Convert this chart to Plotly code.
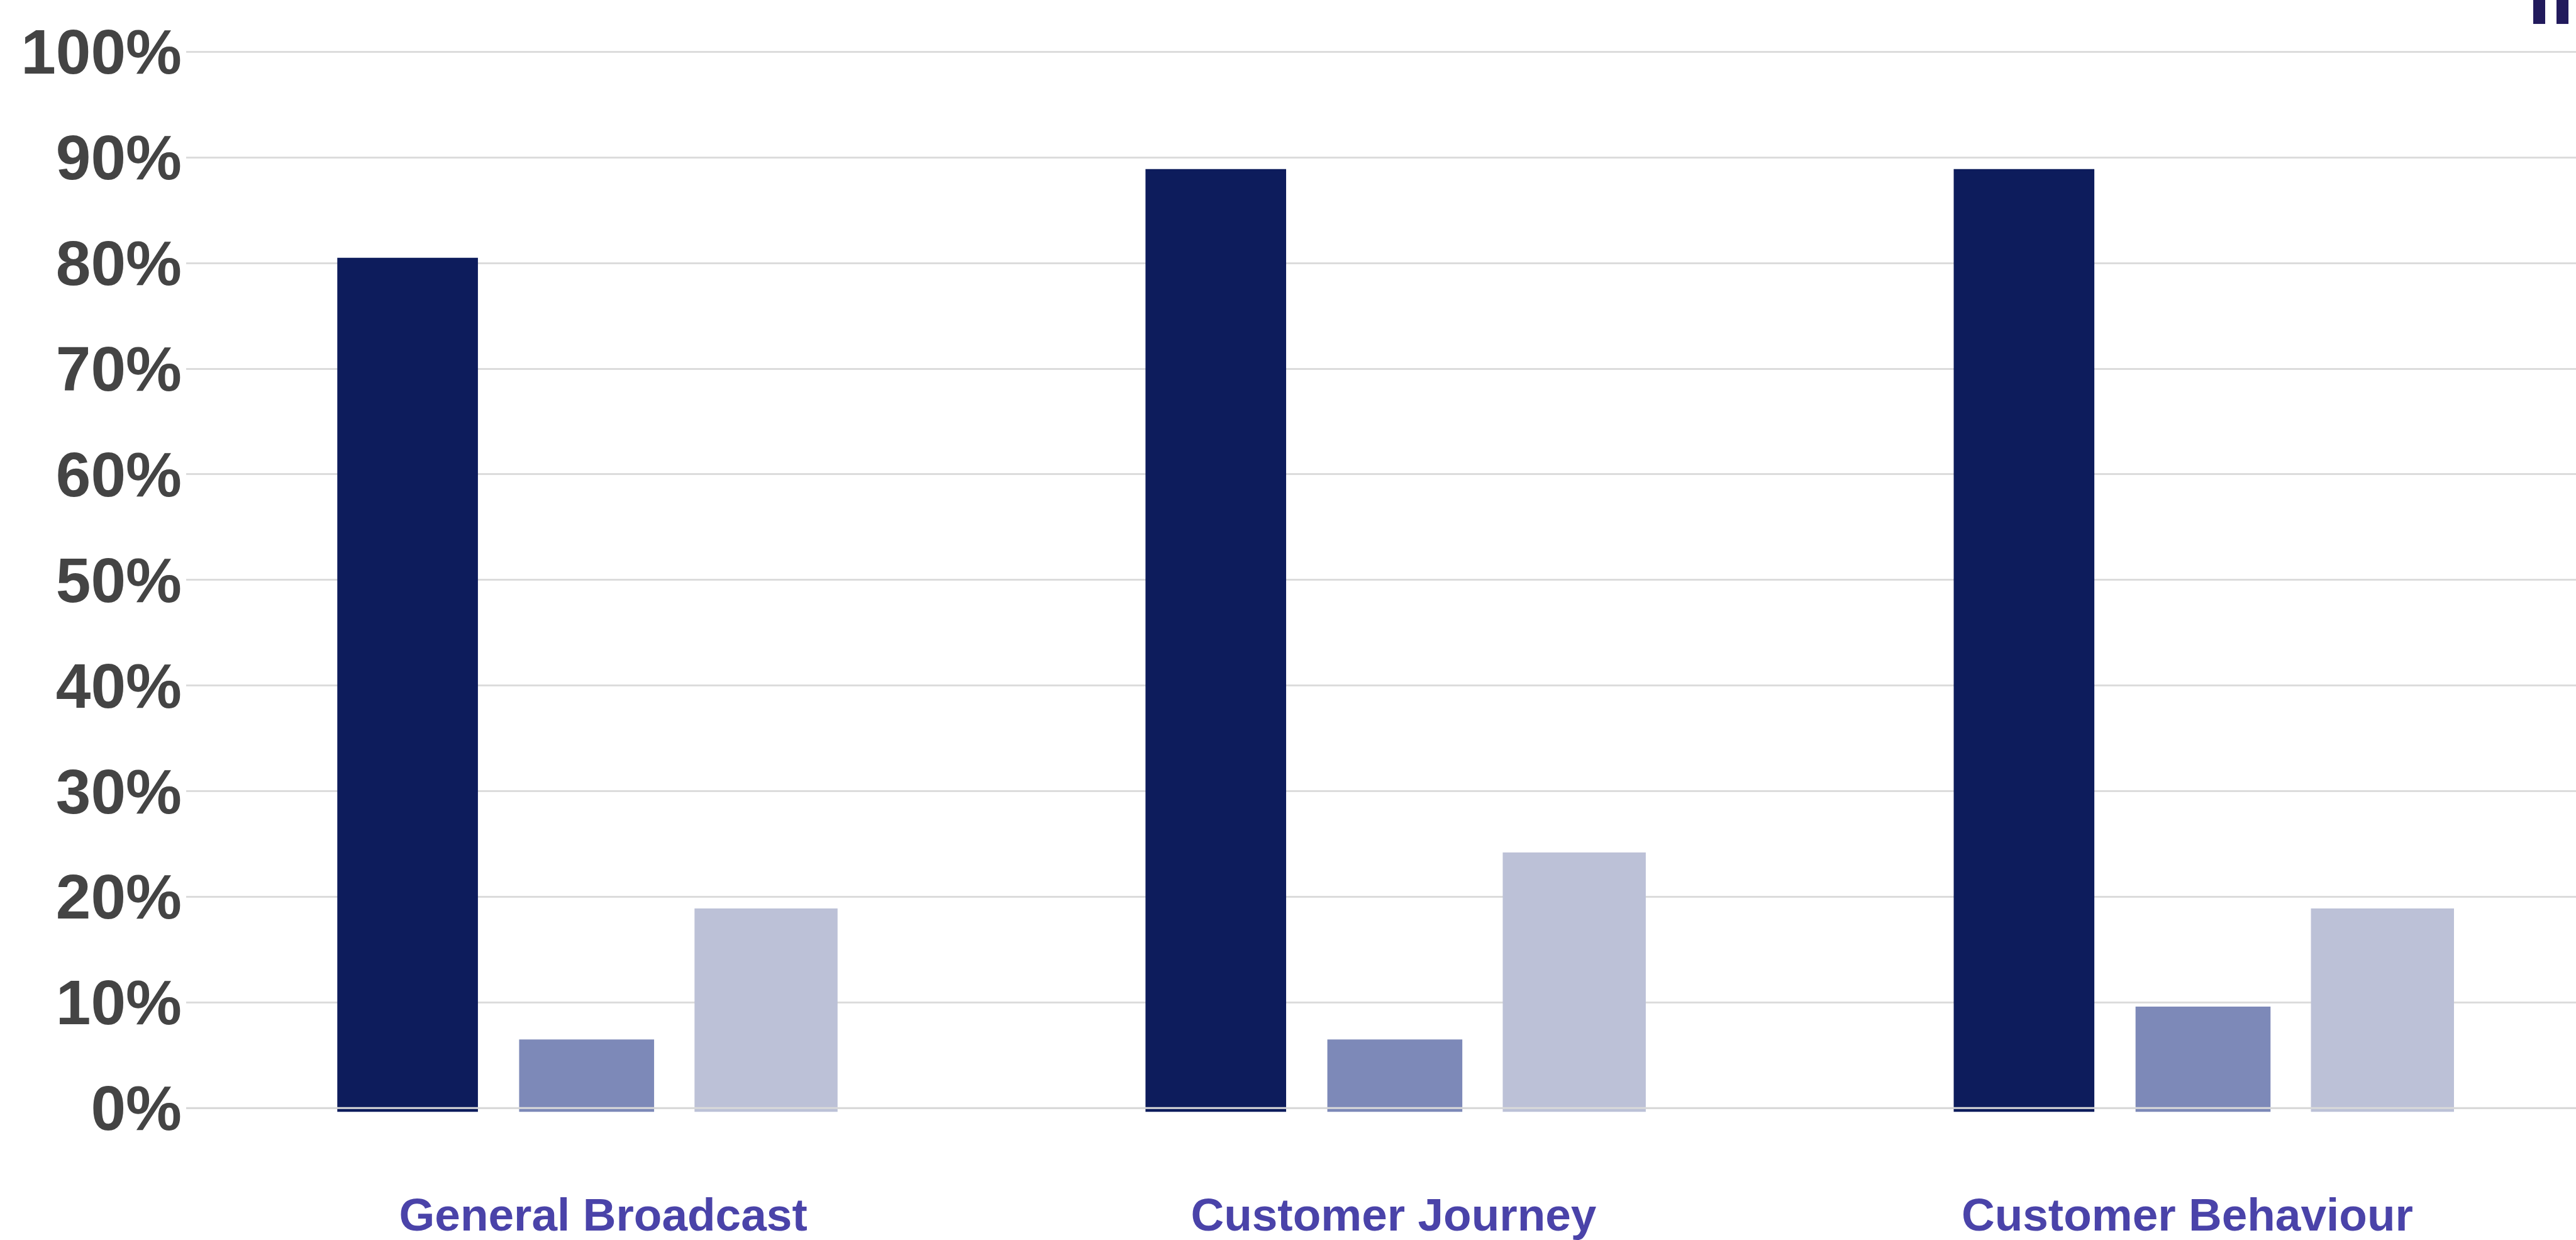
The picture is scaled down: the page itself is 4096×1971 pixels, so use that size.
import plotly.graph_objects as go

# ---- data ----
categories = ["General Broadcast", "Customer Journey", "Customer Behaviour"]
series_names = ["Series A", "Series B", "Series C"]
series_a = [80.5, 88.9, 88.9]
series_b = [6.5, 6.5, 9.6]
series_c = [18.9, 24.2, 18.9]
y_tickvals = [0, 10, 20, 30, 40, 50, 60, 70, 80, 90, 100]
y_ticktext = ["0%", "10%", "20%", "30%", "40%", "50%", "60%", "70%", "80%", "90%", "100%"]

# ---- styling ----
W, H = 4096, 1971
ML, MR, MT, MB = 296, 0, 74, 107
colors = ["#0d1c5c", "#7d89b8", "#bcc1d7"]
offsets = [-0.313, -0.088, 0.129]
widths = [0.174, 0.167, 0.177]
label_shift = [0.016, -0.006, -0.024]   # category label nudges (category units)
BASE = -0.35

fig = go.Figure()
for name, vals, col, off, wd in zip(series_names, [series_a, series_b, series_c], colors, offsets, widths):
    fig.add_trace(go.Bar(
        x=list(range(len(categories))),
        y=[v - BASE for v in vals],
        base=BASE,
        name=name,
        marker=dict(color=col, line=dict(width=0)),
        offset=off,
        width=wd,
        showlegend=False,
        hovertemplate="%{customdata}%<extra></extra>",
        customdata=vals,
    ))

# zero line drawn over the bars
fig.add_shape(type="line", xref="paper", yref="y", x0=0, x1=1, y0=0, y1=0,
              line=dict(color="#d9d9d9", width=3), layer="above")

# small cropped legend marks in the top-right corner
pw, ph = W - ML - MR, H - MT - MB
def px_x(p):
    return (p - ML) / pw
def px_y(p):
    return (H - MB - p) / ph
for x0, x1 in [(4028, 4047), (4065, 4084)]:
    fig.add_shape(type="rect", xref="paper", yref="paper",
                  x0=px_x(x0), x1=px_x(x1), y0=px_y(38), y1=px_y(-5),
                  fillcolor="#211a5c", line=dict(width=0), layer="above")

fig.update_layout(
    width=W, height=H,
    margin=dict(l=ML, r=MR, t=MT, b=MB, pad=0),
    paper_bgcolor="white", plot_bgcolor="white",
    barmode="overlay",
    font=dict(family="Liberation Sans, Arial, sans-serif"),
)
fig.update_xaxes(
    range=[-0.5, -0.5 + pw / 1285.1],
    tickmode="array",
    tickvals=[i + s for i, s in enumerate(label_shift)],
    ticktext=categories,
    tickfont=dict(size=73, color="#4a43a9", family="Liberation Sans, Arial, sans-serif", weight="bold"),
    showgrid=False, zeroline=False, showline=False, ticks="",
    ticklabelstandoff=20,
)
fig.update_yaxes(
    range=[-6, 100.5],
    tickmode="array", tickvals=y_tickvals, ticktext=y_ticktext,
    tickfont=dict(size=100, color="#444444", family="Liberation Sans, Arial, sans-serif", weight="bold"),
    showgrid=True, gridcolor="#dcdcdc", gridwidth=3,
    zeroline=False, showline=False, ticks="",
    ticklabelstandoff=6,
)

fig.write_html(
    "out.html",
    config={"displayModeBar": False},
    post_script="document.body.style.margin='0';document.body.style.overflow='hidden';",
)
